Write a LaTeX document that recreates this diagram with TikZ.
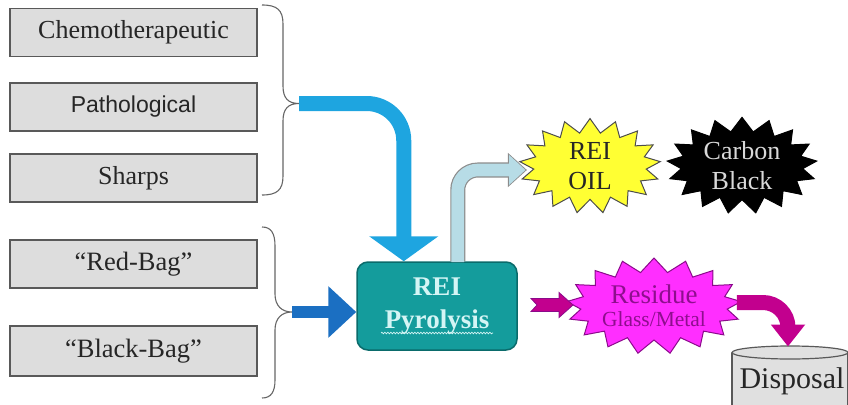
\documentclass[tikz,border=0pt]{standalone}
\usepackage{fontspec}
\setmainfont{Liberation Serif}
\newfontfamily\arialfont{Liberation Sans}
\usetikzlibrary{arrows.meta,shapes.symbols,decorations.pathmorphing,calc}
\definecolor{boxgray}{HTML}{DDDDDD}
\definecolor{arrowblue}{HTML}{1EA5E0}
\definecolor{darkblue}{HTML}{1B6FC2}
\definecolor{lightblue}{HTML}{B7DCE6}
\definecolor{tealfill}{HTML}{149C9C}
\definecolor{tealline}{HTML}{0A6B6B}
\definecolor{pyrotext}{HTML}{D4F5F5}
\definecolor{burstyellow}{HTML}{FFFF33}
\definecolor{burstmag}{HTML}{FF2EFF}
\definecolor{magline}{HTML}{8B0A8B}
\definecolor{magtext}{HTML}{8E0E8E}
\definecolor{magarrow}{HTML}{C2008E}
\definecolor{cylfill}{HTML}{E0E0E0}
\begin{document}
\begin{tikzpicture}[x=1pt,y=-1pt,
  wastebox/.style={draw=black!65, line width=1.2pt, fill=boxgray, minimum width=247pt,
    minimum height=48pt, inner sep=0pt, text=black!85, font=\fontsize{26}{30}\selectfont},
  bracepath/.style={draw=black!60, line width=1.1pt},
  burst/.style={starburst, starburst points=17, starburst point height=14pt,
    random starburst=0, inner sep=0pt, line width=1pt, align=center,
    font=\fontsize{26}{30}\selectfont},
]
\path[use as bounding box] (0,0) rectangle (848,404);
\clip (0,0) rectangle (848,404);

% waste boxes
\node[wastebox] (chemo) at (133.5,32.5) {Chemotherapeutic};
\node[wastebox, font=\arialfont\fontsize{23}{28}\selectfont] (patho) at (133.5,107) {Pathological};
\node[wastebox] (sharps) at (133.5,178) {Sharps};
\node[wastebox, font=\fontsize{26.5}{30}\selectfont] (red) at (133.5,264) {“Red-Bag”};
\node[wastebox, minimum height=50pt, font=\fontsize{26.5}{30}\selectfont] (black) at (133.5,351) {“Black-Bag”};

% braces
\coordinate (b1) at (299,103.5);
\coordinate (b2) at (292,312);
\draw[bracepath] (262,5) .. controls (277,5) and (283,10) .. (283,24) -- (283,86)
  .. controls (283,98) and (288,103.5) .. (b1)
  .. controls (288,103.5) and (283,109) .. (283,121) -- (283,176)
  .. controls (283,190) and (277,195) .. (262,195);
\draw[bracepath] (262,227) .. controls (271,227) and (275,233) .. (275,246) -- (275,294)
  .. controls (275,306) and (282,312) .. (b2)
  .. controls (282,312) and (275,318) .. (275,330) -- (275,380)
  .. controls (275,392) and (271,398) .. (262,398);

% pyrolysis box
\node[draw=tealline, line width=1.5pt, fill=tealfill, rounded corners=11pt,
  minimum width=160pt, minimum height=88pt, align=center, text=pyrotext,
  font=\bfseries\fontsize{27}{33}\selectfont] (pyro) at (437,306) {REI\\Pyrolysis};
\draw[pyrotext, line width=0.7pt, decorate, decoration={snake, amplitude=0.8pt, segment length=3pt}]
  ($(pyro.center)+(-56,27)$) -- ($(pyro.center)+(56,27)$);

% starbursts
\node[burst, fill=burstyellow, draw=black!70, minimum width=141pt, minimum height=88pt, text=black!85]
  (oil) at (590,166) {REI\\OIL};
\node[burst, fill=black, draw=black, minimum width=150pt, minimum height=94pt, text=white!85!black]
  (carbon) at (742,165.5) {Carbon\\Black};

% arrows
\draw[line width=15pt, draw=arrowblue, rounded corners=37pt,
  -{Triangle[width=68pt,length=25pt]}] (b1) -| ($(pyro.north west)+(47.5,0)$);
\draw[line width=12pt, draw=darkblue, -{Triangle[width=50pt,length=28pt]}]
  (b2) -- (b2 -| pyro.west);
\draw[line width=15pt, draw=black!45, rounded corners=20pt,
  -{Triangle[width=33pt,length=19pt]}] ($(pyro.north west)+(101.5,0)$) |- ($(oil.west)+(0,4)$);
\draw[line width=12.6pt, draw=lightblue, rounded corners=20pt, shorten >=1.4pt,
  -{Triangle[width=29pt,length=16.5pt]}] ($(pyro.north west)+(101.5,0.8)$) |- ($(oil.west)+(0,4)$);

% disposal cylinder
\fill[cylfill] (732,352.5) rectangle (848,410);
\draw[black!65, line width=1.2pt] (732,352.5) -- (732,410);
\draw[black!65, line width=1.2pt] (848,352.5) -- (848,410);
\draw[black!65, line width=1.2pt, fill=cylfill] (790,352.5) ellipse[x radius=58, y radius=6.5];
\coordinate (dtop) at (788,346.5);
\node[font=\fontsize{30}{34}\selectfont, text=black!85] (disp) at (792,381) {Disposal};

% residue
\node[burst, fill=burstmag, draw=magline, minimum width=147pt, minimum height=96pt, text=magtext,
  font=\fontsize{27}{25}\selectfont] (res) at (654,306)
  {Residue\\[-2pt]{\fontsize{21.5}{24}\selectfont Glass/Metal}};
\draw[line width=15pt, draw=magarrow, rounded corners=25pt,
  -{Triangle[width=33pt,length=22pt]}] ($(res.east)+(3,-3.5)$) -| (dtop);
\draw[fill=magarrow, draw=magline, line width=0.8pt]
  ($(res.west)+(-1,-1)$) -- ++(-14,-12.5) -- ++(0,6) -- ++(-28,0) -- ++(6,6.5)
  -- ++(-6,6.5) -- ++(28,0) -- ++(0,6) -- cycle;
\end{tikzpicture}
\end{document}
